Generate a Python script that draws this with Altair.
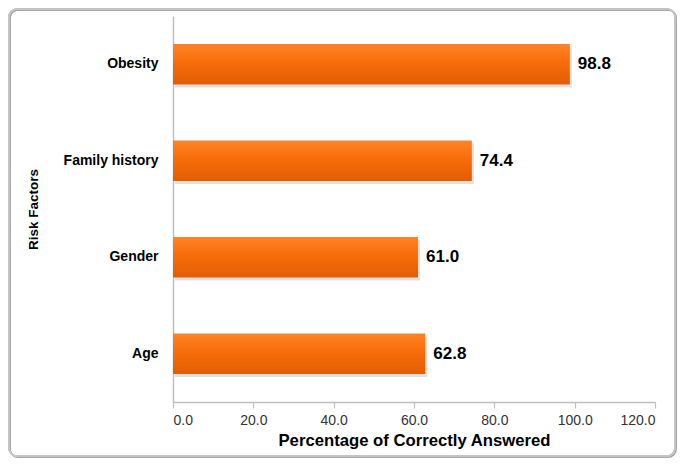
import altair as alt
import pandas as pd

factors = ["Obesity", "Family history", "Gender", "Age"]
values = [98.8, 74.4, 61.0, 62.8]
x_ticks = [0, 20, 40, 60, 80, 100, 120]

df = pd.DataFrame({"factor": factors, "value": values})

W, H = 482, 386
PL, PT, PR, PB = 165, 8, 22, 56

x = alt.X("value:Q", scale=alt.Scale(domain=[0, 120], nice=False, zero=True),
          axis=alt.Axis(values=x_ticks, format=".1f", title="Percentage of Correctly Answered",
                        titleFont="Liberation Sans", titleFontSize=16.7, titleFontWeight="bold",
                        titleColor="#000000", titlePadding=5,
                        labelFont="Liberation Sans", labelFontSize=14, labelColor="#333333",
                        labelPadding=5, domainColor="#bfbfbf", domainWidth=1.5,
                        tickColor="#bfbfbf", tickSize=6, tickWidth=1.2, grid=False))
y = alt.Y("factor:N", sort=factors,
          scale=alt.Scale(paddingInner=0.58, paddingOuter=0.29),
          axis=alt.Axis(title="Risk Factors", titleFont="Liberation Sans", titleFontSize=13.5,
                        titleFontWeight="bold", titleColor="#000000", titlePadding=23,
                        labelFont="Liberation Sans", labelFontSize=14, labelFontWeight="bold",
                        labelColor="#000000", labelPadding=15, ticks=False,
                        domainColor="#bfbfbf", domainWidth=1.5))

grad = alt.Gradient(gradient="linear",
                    stops=[alt.GradientStop(color="#ff8426", offset=0),
                           alt.GradientStop(color="#f76a08", offset=0.5),
                           alt.GradientStop(color="#e05e06", offset=1)],
                    x1=0, x2=0, y1=0, y2=1)

border_shadow = alt.Chart(df).mark_rect(filled=False, stroke="#9a9a9a", strokeWidth=1.5,
                                        opacity=0.5, cornerRadius=8).encode(
    x=alt.value(-PL + 2), x2=alt.value(W + PR - 1),
    y=alt.value(-PT + 2), y2=alt.value(H + PB - 1))

border = alt.Chart(df).mark_rect(filled=False, stroke="#c4c4c4", strokeWidth=1.5,
                                 cornerRadius=8).encode(
    x=alt.value(-PL + 1), x2=alt.value(W + PR - 2),
    y=alt.value(-PT + 1), y2=alt.value(H + PB - 2))

shadow = alt.Chart(df).mark_bar(color="#000000", opacity=0.12, yOffset=3, xOffset=2).encode(
    x=x, y=y)

bars = alt.Chart(df).mark_bar(color=grad).encode(x=x, y=y)

labels = alt.Chart(df).mark_text(align="left", dx=8, font="Liberation Sans", fontSize=17,
                                 fontWeight="bold", color="#000000").encode(
    x=x, y=y, text=alt.Text("value:Q", format=".1f"))

chart = alt.layer(border_shadow, border, shadow, bars, labels).properties(
    width=W, height=H,
    autosize=alt.AutoSizeParams(type="none"),
    padding={"left": PL, "top": PT, "right": PR, "bottom": PB},
).configure_view(stroke=None)

chart.save("out.html", embed_options={"renderer": "svg", "actions": False})
